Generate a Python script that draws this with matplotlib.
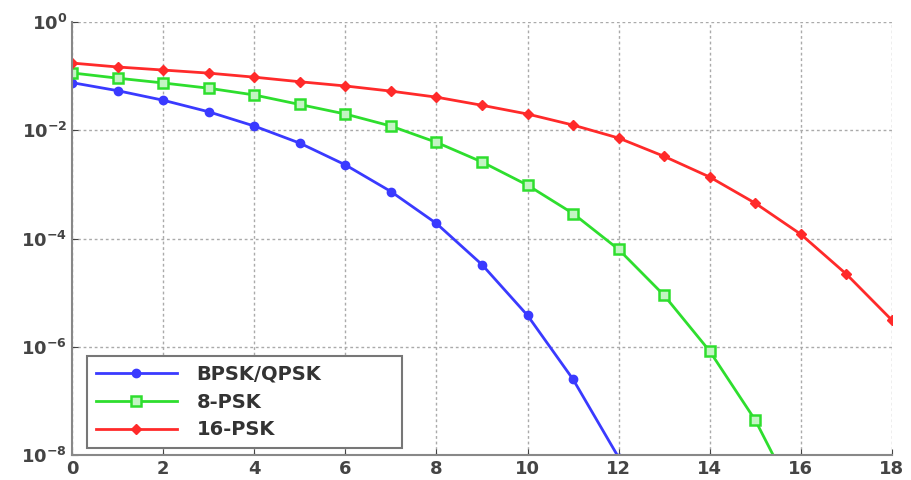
import numpy as np
import matplotlib
matplotlib.use("Agg")
import matplotlib.pyplot as plt

# Eb/N0 in dB
snr_bpsk = [0, 1, 2, 3, 4, 5, 6, 7, 8, 9, 10, 11, 12]
snr_8psk = [0, 1, 2, 3, 4, 5, 6, 7, 8, 9, 10, 11, 12, 13, 14, 15, 16]
snr_16psk = [0, 1, 2, 3, 4, 5, 6, 7, 8, 9, 10, 11, 12, 13, 14, 15, 16, 17, 18]

# symbol error rates
ser_bpsk = [0.076, 0.054, 0.036, 0.022, 0.012, 5.8e-3, 2.3e-3, 7.4e-4,
            1.9e-4, 3.3e-5, 3.8e-6, 2.5e-7, 9.0e-9]
ser_8psk = [0.115, 0.092, 0.075, 0.060, 0.045, 0.030, 0.020, 0.012,
            6.0e-3, 2.6e-3, 9.7e-4, 2.9e-4, 6.3e-5, 8.9e-6, 8.3e-7,
            4.4e-8, 1.0e-9]
ser_16psk = [0.175, 0.148, 0.130, 0.114, 0.096, 0.079, 0.066, 0.053,
             0.041, 0.029, 0.020, 0.0125, 7.2e-3, 3.3e-3, 1.37e-3,
             4.5e-4, 1.2e-4, 2.2e-5, 3.1e-6]

labels = ['BPSK/QPSK', '8-PSK', '16-PSK']

fig = plt.figure(figsize=(9.12, 4.8), dpi=100)
ax = fig.add_axes([0.079, 0.052, 0.899, 0.902])

ax.semilogy(snr_bpsk, ser_bpsk, color='#3a3aff', marker='o', ms=6,
            mfc='#3a3aff', lw=2, label=labels[0])
ax.semilogy(snr_8psk, ser_8psk, color='#2ede2e', marker='s', ms=7.5,
            mfc='#c4f4c4', mew=1.8, lw=2, label=labels[1])
ax.semilogy(snr_16psk, ser_16psk, color='#ff2a2a', marker='D', ms=5.5,
            mfc='#ff2a2a', lw=2, label=labels[2])

ax.set_xlim(0, 18)
ax.set_ylim(1e-8, 1)
ax.set_xticks(range(0, 19, 2))
ax.set_yticks([1e0, 1e-2, 1e-4, 1e-6, 1e-8])
ax.set_yticklabels([r'$\mathbf{10^{0}}$', r'$\mathbf{10^{-2}}$', r'$\mathbf{10^{-4}}$',
                    r'$\mathbf{10^{-6}}$', r'$\mathbf{10^{-8}}$'])
ax.minorticks_off()
ax.tick_params(direction='in', labelsize=13, colors='#444444', length=4)
for lab in ax.get_xticklabels():
    lab.set_fontweight('bold')
ax.grid(True, linestyle=(0, (2, 2)), color='#aaaaaa', lw=1)
for side in ['top', 'right']:
    ax.spines[side].set_visible(False)
for side in ['left', 'bottom']:
    ax.spines[side].set_color('#888888')
    ax.spines[side].set_linewidth(1.5)

leg = ax.legend(loc='lower left', bbox_to_anchor=(0.018, 0.016, 0.385, 0.2),
                mode='expand', borderaxespad=0, fontsize=14,
                fancybox=False, edgecolor='#777777', framealpha=1,
                handlelength=4.2, handletextpad=1.0, borderpad=0.45,
                labelspacing=0.45)
leg.get_frame().set_linewidth(1.5)
for t in leg.get_texts():
    t.set_fontweight('bold')
    t.set_color('#333333')

plt.savefig('out.png', dpi=100)
